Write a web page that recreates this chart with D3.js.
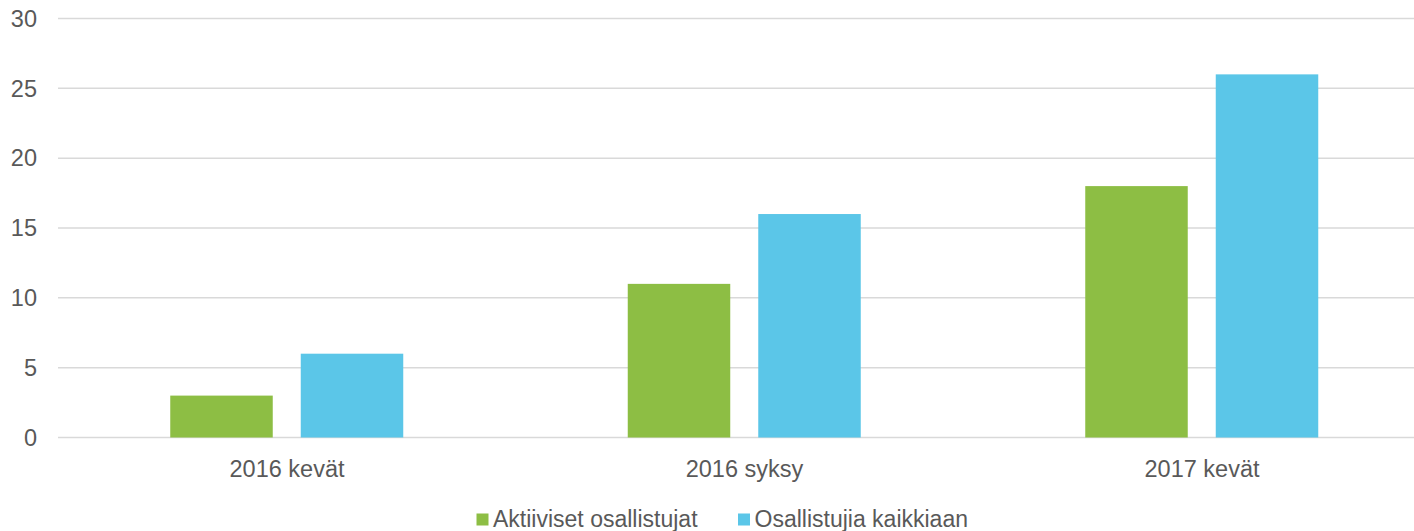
<!DOCTYPE html>
<html><head><meta charset="utf-8">
<script src="https://cdn.jsdelivr.net/npm/d3@7"></script>
<style>body{margin:0;background:#fff;}svg{display:block;font-family:"Liberation Sans",Arial,sans-serif;}</style>
</head><body>
<svg id="c" width="1414" height="531"></svg>
<script>
const categories = ["2016 kevät", "2016 syksy", "2017 kevät"];
const seriesNames = ["Aktiiviset osallistujat", "Osallistujia kaikkiaan"];
const aktiiviset = [3, 11, 18];
const kaikkiaan = [6, 16, 26];
const yTicks = [0, 5, 10, 15, 20, 25, 30];
const colors = ["#8DBE44", "#5BC6E8"];

const seriesValues = [aktiiviset, kaikkiaan];
const svg = d3.select("#c");
const x0 = d3.scaleBand().domain(categories).range([58.25, 1430.75]).paddingInner(0).paddingOuter(0);
const x1 = d3.scaleBand().domain(seriesNames).range([112, 345]).paddingInner(0.2146).paddingOuter(0);
const y = d3.scaleLinear().domain([0, 30]).range([437.5, 18.5]);

// gridlines
svg.append("g").selectAll("line").data(yTicks).join("line")
  .attr("x1", 58).attr("x2", 1414)
  .attr("y1", d => y(d)).attr("y2", d => y(d))
  .attr("stroke", "#d9d9d9").attr("stroke-width", 1.5);

// y labels
svg.append("g").selectAll("text").data(yTicks).join("text")
  .attr("x", 37).attr("y", d => y(d)).attr("dy", "0.35em")
  .attr("text-anchor", "end").attr("fill", "#595959").attr("font-size", 23.5)
  .text(d => d);

// bars
const g = svg.append("g");
categories.forEach((c, i) => {
  seriesNames.forEach((s, j) => {
    const v = seriesValues[j][i];
    g.append("rect")
      .attr("x", x0(c) + x1(s)).attr("width", x1.bandwidth())
      .attr("y", y(v)).attr("height", y(0) - y(v))
      .attr("fill", colors[j]);
  });
});

// x labels
svg.append("g").selectAll("text").data(categories).join("text")
  .attr("x", d => x0(d) + x0.bandwidth() / 2).attr("y", 477)
  .attr("text-anchor", "middle").attr("fill", "#595959").attr("font-size", 23.5)
  .text(d => d);

// legend
const legX = [476.5, 738];
const lg = svg.append("g");
seriesNames.forEach((s, j) => {
  lg.append("rect").attr("x", legX[j]).attr("y", 513.5).attr("width", 12).attr("height", 12).attr("fill", colors[j]);
  lg.append("text").attr("x", legX[j] + 16.5).attr("y", 527).attr("fill", "#595959").attr("font-size", 23).text(s);
});
</script>
</body></html>
